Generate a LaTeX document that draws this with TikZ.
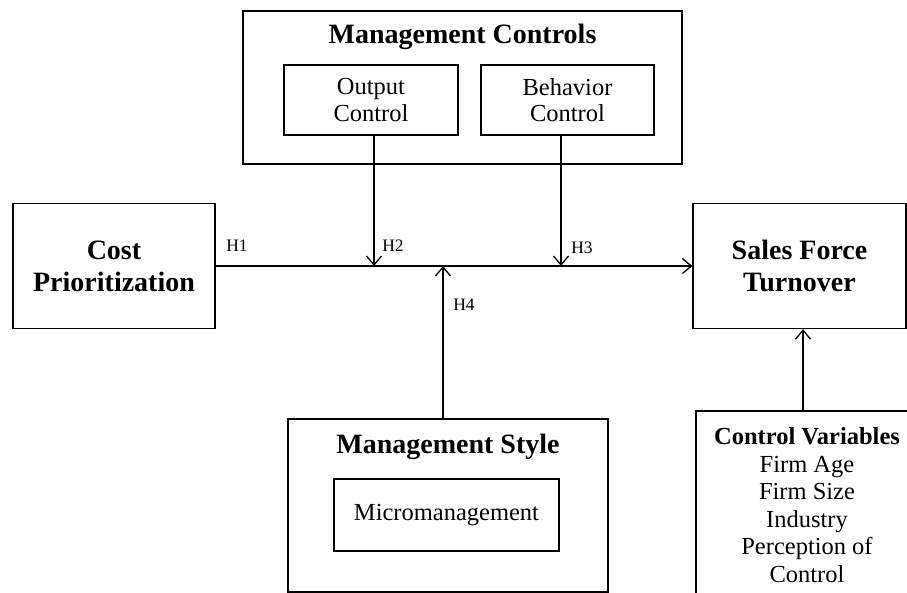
\documentclass[tikz,border=0pt]{standalone}
\usepackage{fontspec}
\setmainfont{Liberation Serif}
\usetikzlibrary{arrows.meta}

\begin{document}
\begin{tikzpicture}[x=1pt, y=-1pt, line width=1.3pt,
    box/.style={draw, inner sep=0pt},
    heading/.style={font=\fontsize{28}{32}\selectfont\bfseries, align=center},
    body/.style={font=\fontsize{24.5}{26.5}\selectfont, align=center},
    hlabel/.style={font=\fontsize{17.5}{20}\selectfont, inner sep=0pt},
    arr/.style={-{Straight Barb[length=9pt, width=15pt]}}]
    % 画布范围
    \useasboundingbox (0, 0) rectangle (907, 593);
    \clip (0, 0) rectangle (907, 593);

    % 管理控制及其两个子框
    \node[box, minimum width=439pt, minimum height=153pt] (mc) at (462.5, 87.5) {};
    \node[heading, anchor=base] (mctitle) at (462.5, 44) {Management Controls};
    \node[box, body, minimum width=174pt, minimum height=70pt] (oc) at (371, 100) {Output\\Control};
    \node[box, body, minimum width=173pt, minimum height=70pt] (bc) at (567.5, 100) {Behavior\\Control};

    % 自变量与因变量
    \node[box, heading, minimum width=202pt, minimum height=125pt] (cp) at (114, 266) {Cost\\Prioritization};
    \node[box, heading, minimum width=213pt, minimum height=125pt] (sft) at (799.5, 266) {Sales Force\\Turnover};

    % 管理风格
    \node[box, minimum width=320pt, minimum height=173pt] (ms) at (448, 505.5) {};
    \node[heading, anchor=base] (mstitle) at (448, 453) {Management Style};
    \node[box, body, minimum width=225pt, minimum height=72pt] (mm) at (446.5, 515) {Micromanagement};

    % 控制变量
    \node[box, font=\fontsize{24.5}{27.5}\selectfont, align=center,
        minimum width=222pt, minimum height=188pt] (cv) at (807, 505)
        {\textbf{Control Variables}\\Firm Age\\Firm Size\\Industry\\Perception of\\Control};

    % 主路径 H1
    \draw[arr] (cp.east) -- (sft.west);
    \node[hlabel] (h1) at (237, 246) {H1};

    % 调节路径 H2, H3, H4
    \coordinate (h2top) at ([xshift=3pt]oc.south);
    \draw[arr] (h2top) -- (h2top |- cp.east);
    \node[hlabel] (h2) at (393, 246) {H2};

    \coordinate (h3top) at ([xshift=-6.5pt]bc.south);
    \draw[arr] (h3top) -- (h3top |- cp.east);
    \node[hlabel] (h3) at (582, 248) {H3};

    \coordinate (h4bot) at ([xshift=-5pt]ms.north);
    \draw[arr] (h4bot) -- (h4bot |- cp.east);
    \node[hlabel] (h4) at (464, 305) {H4};

    % 控制变量指向因变量
    \coordinate (cvtop) at ([xshift=-4pt]cv.north);
    \draw[arr] (cvtop) -- (cvtop |- sft.south);
\end{tikzpicture}
\end{document}
